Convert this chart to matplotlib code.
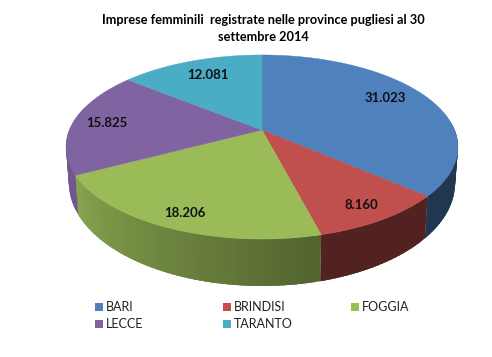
import numpy as np
import matplotlib
matplotlib.use('Agg')
import matplotlib.pyplot as plt
from matplotlib.patches import Polygon, Rectangle

province = ['BARI', 'BRINDISI', 'FOGGIA', 'LECCE', 'TARANTO']
imprese = [31023, 8160, 18206, 15825, 12081]
etichette = ['31.023', '8.160', '18.206', '15.825', '12.081']
colori = ['#4F81BD', '#C0504D', '#9BBB59', '#8064A2', '#4BACC6']

titolo = 'Imprese femminili  registrate nelle province pugliesi al 30\nsettembre 2014'

# label placement inside each slice
label_r = [.785, .855, .866, .82, .767]
label_dt = [-4.9, .5, -.5, .1, 1.1]

# fake 3d: perspective of a tilted disc, in pixels
cx, cy = 262, 130
a, b, k = 192.6, 88.9, .1848


def proj(theta, r=1., low=False):
    t = np.radians(theta)
    u = r * np.sin(t)
    v = -r * np.cos(t)
    w = 1 - k * v
    x = a * u / w
    y = b * v / w
    if low:
        return cx + .985 * x, cy + 34.3 + 1.116 * y
    return cx + x, cy + y


def shade(theta):
    return np.interp(theta, [100, 165, 165.5, 242, 290], [.42, .42, .53, .88, .85])


fig = plt.figure(figsize=(4.92, 3.57), dpi=100)
ax = fig.add_axes([0, 0, 1, 1])
ax.set_xlim(0, 492)
ax.set_ylim(357, 0)
ax.axis('off')

ang = np.concatenate([[0], np.cumsum(imprese) / np.sum(imprese) * 360])

# side of the pie, each strip runs under the next one so no seams show
for i in range(len(imprese)):
    lo, hi = max(ang[i], 85), min(ang[i + 1], 285)
    if lo >= hi:
        continue
    steps = np.append(np.arange(lo, hi, 1.5), hi)
    for t0, t1 in zip(steps[:-1], steps[1:]):
        over = min(t1 + 2, hi)
        x0, y0 = proj(t0)
        x1, y1 = proj(over)
        x2, y2 = proj(over, low=True)
        x3, y3 = proj(t0, low=True)
        col = np.array(matplotlib.colors.to_rgb(colori[i])) * shade((t0 + t1) / 2)
        ax.add_patch(Polygon([(x0, y0), (x1, y1), (x2, y2), (x3, y3)], fc=col, ec='none'))

# top of the pie
for i in range(len(imprese)):
    th = np.linspace(ang[i], ang[i + 1], 120)
    x, y = proj(th)
    pts = [(cx, cy)] + list(zip(x, y))
    ax.add_patch(Polygon(pts, fc=colori[i], ec=colori[i], lw=.3))

for i in range(len(imprese)):
    mid = (ang[i] + ang[i + 1]) / 2 + label_dt[i]
    x, y = proj(mid, label_r[i])
    ax.text(x, y, etichette[i], ha='center', va='center', fontsize=9.5,
            fontweight='bold', family='Lato', color='#111111')

ax.text(263, 28.5, titolo, ha='center', va='center', fontsize=9.2,
        fontweight='bold', family='Lato', linespacing=1.5)

# legend, three columns filled row by row
for i, p in enumerate(province):
    lx = 95 + 128 * (i % 3)
    ly = 307 + 17 * (i // 3)
    ax.add_patch(Rectangle((lx, ly - 4), 8, 8, fc=colori[i], ec='none'))
    ax.text(lx + 11, ly, p, ha='left', va='center', fontsize=9, family='Lato', color='#222222')

fig.savefig('out.png', dpi=100)
